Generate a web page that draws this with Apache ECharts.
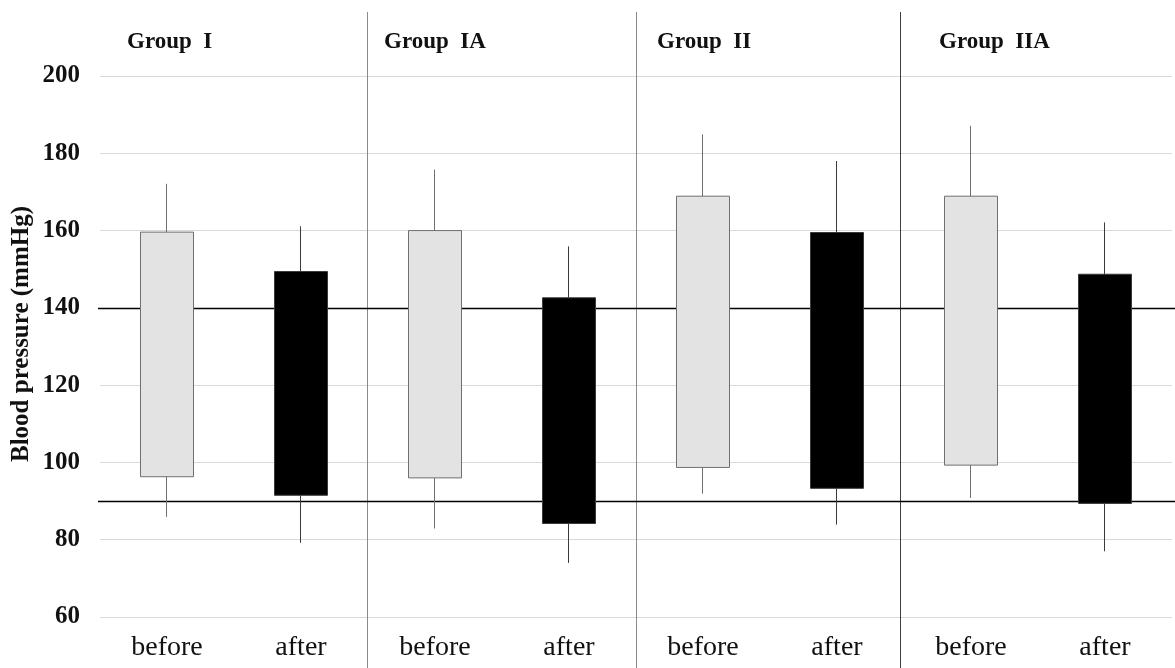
<!DOCTYPE html>
<html>
<head>
<meta charset="utf-8">
<script src="https://cdn.jsdelivr.net/npm/echarts@6/dist/echarts.min.js"></script>
<style>
html,body{margin:0;padding:0;background:#fff;}
#chart{width:1175px;height:668px;}
</style>
</head>
<body>
<div id="chart"></div>
<script>
// ---- data ----
var categories = ['before', 'after', 'before', 'after', 'before', 'after', 'before', 'after'];
var groups = ['Group  I', 'Group  IA', 'Group  II', 'Group  IIA'];
var boxBottom   = [96.3, 91.5, 96.0, 84.2, 98.7, 93.3, 99.3, 89.4];
var boxTop      = [159.6, 149.4, 160.0, 142.6, 168.9, 159.5, 168.9, 148.7];
var whiskerLow  = [85.9, 79.2, 82.9, 74.0, 91.9, 83.9, 90.8, 77.0];
var whiskerHigh = [172.1, 161.1, 175.8, 155.9, 184.9, 178.0, 187.1, 162.1];
var refLines = [140, 90];
var yTicks = { min: 60, max: 200, interval: 20 };
var yTitle = 'Blood pressure (mmHg)';

var serif = '"Liberation Serif", "DejaVu Serif", serif';

var candleData = categories.map(function (c, i) {
  var isBefore = (i % 2 === 0);
  return {
    value: [boxBottom[i], boxTop[i], whiskerLow[i], whiskerHigh[i]],
    itemStyle: isBefore
      ? { color: '#e3e3e3', color0: '#e3e3e3', borderColor: '#707070', borderColor0: '#707070', borderWidth: 1 }
      : { color: '#000000', color0: '#000000', borderColor: '#3a3a3a', borderColor0: '#3a3a3a', borderWidth: 1 }
  };
});

var chart = echarts.init(document.getElementById('chart'), null, { renderer: 'canvas' });
var option = {
  animation: false,
  backgroundColor: '#ffffff',
  grid: { left: 100, right: 3, top: 76, bottom: 51 },
  xAxis: {
    type: 'category',
    data: categories,
    boundaryGap: true,
    axisLine: { show: false },
    axisTick: { show: false },
    splitLine: { show: false },
    axisLabel: { fontFamily: serif, fontSize: 28, color: '#111', margin: 17, interval: 0 }
  },
  yAxis: {
    type: 'value',
    min: yTicks.min, max: yTicks.max, interval: yTicks.interval,
    axisLine: { show: false },
    axisTick: { show: false },
    splitLine: { show: true, lineStyle: { color: '#d9d9d9', width: 1 } },
    axisLabel: { fontFamily: serif, fontSize: 25, fontWeight: 'bold', color: '#111', margin: 20 }
  },
  series: [{
    type: 'candlestick',
    data: candleData,
    barWidth: 53,
    z: 3
  }]
};
chart.setOption(option);

// separators, reference lines and titles positioned from the axes
var graphics = [];
var xs = categories.map(function (c, i) { return chart.convertToPixel({ xAxisIndex: 0 }, i); });
var step = xs[1] - xs[0];
var sepColors = ['#8a8a8a', '#8a8a8a', '#404040'];
var sepNudge = [-1, 0, -4];
for (var g = 1; g < groups.length; g++) {
  var bx = Math.round((xs[2 * g - 1] + xs[2 * g]) / 2) + sepNudge[g - 1] + 0.5;
  graphics.push({
    type: 'line', z: 1,
    shape: { x1: bx, y1: 12, x2: bx, y2: 668 },
    style: { stroke: sepColors[g - 1], lineWidth: 1 }
  });
}
refLines.forEach(function (v) {
  var y = Math.round(chart.convertToPixel({ yAxisIndex: 0 }, v)) + 0.5;
  graphics.push({
    type: 'line', z: 1,
    shape: { x1: 98, y1: y, x2: 1175, y2: y },
    style: { stroke: '#000', lineWidth: 1.4 }
  });
});
var titleOffsets = [27, 16, 21, 35];
for (var k = 0; k < groups.length; k++) {
  var left = xs[2 * k] - step / 2 + titleOffsets[k];
  graphics.push({
    type: 'text', z: 5,
    x: left, y: 42,
    style: {
      text: groups[k],
      font: 'bold 23px ' + serif,
      fill: '#111',
      textAlign: 'left',
      textVerticalAlign: 'middle'
    }
  });
}
graphics.push({
  type: 'text', z: 5,
  x: 22, y: 334,
  rotation: Math.PI / 2,
  style: {
    text: yTitle,
    font: 'bold 25px ' + serif,
    fill: '#111',
    textAlign: 'center',
    textVerticalAlign: 'middle'
  }
});
chart.setOption({ graphic: graphics });
</script>
</body>
</html>
